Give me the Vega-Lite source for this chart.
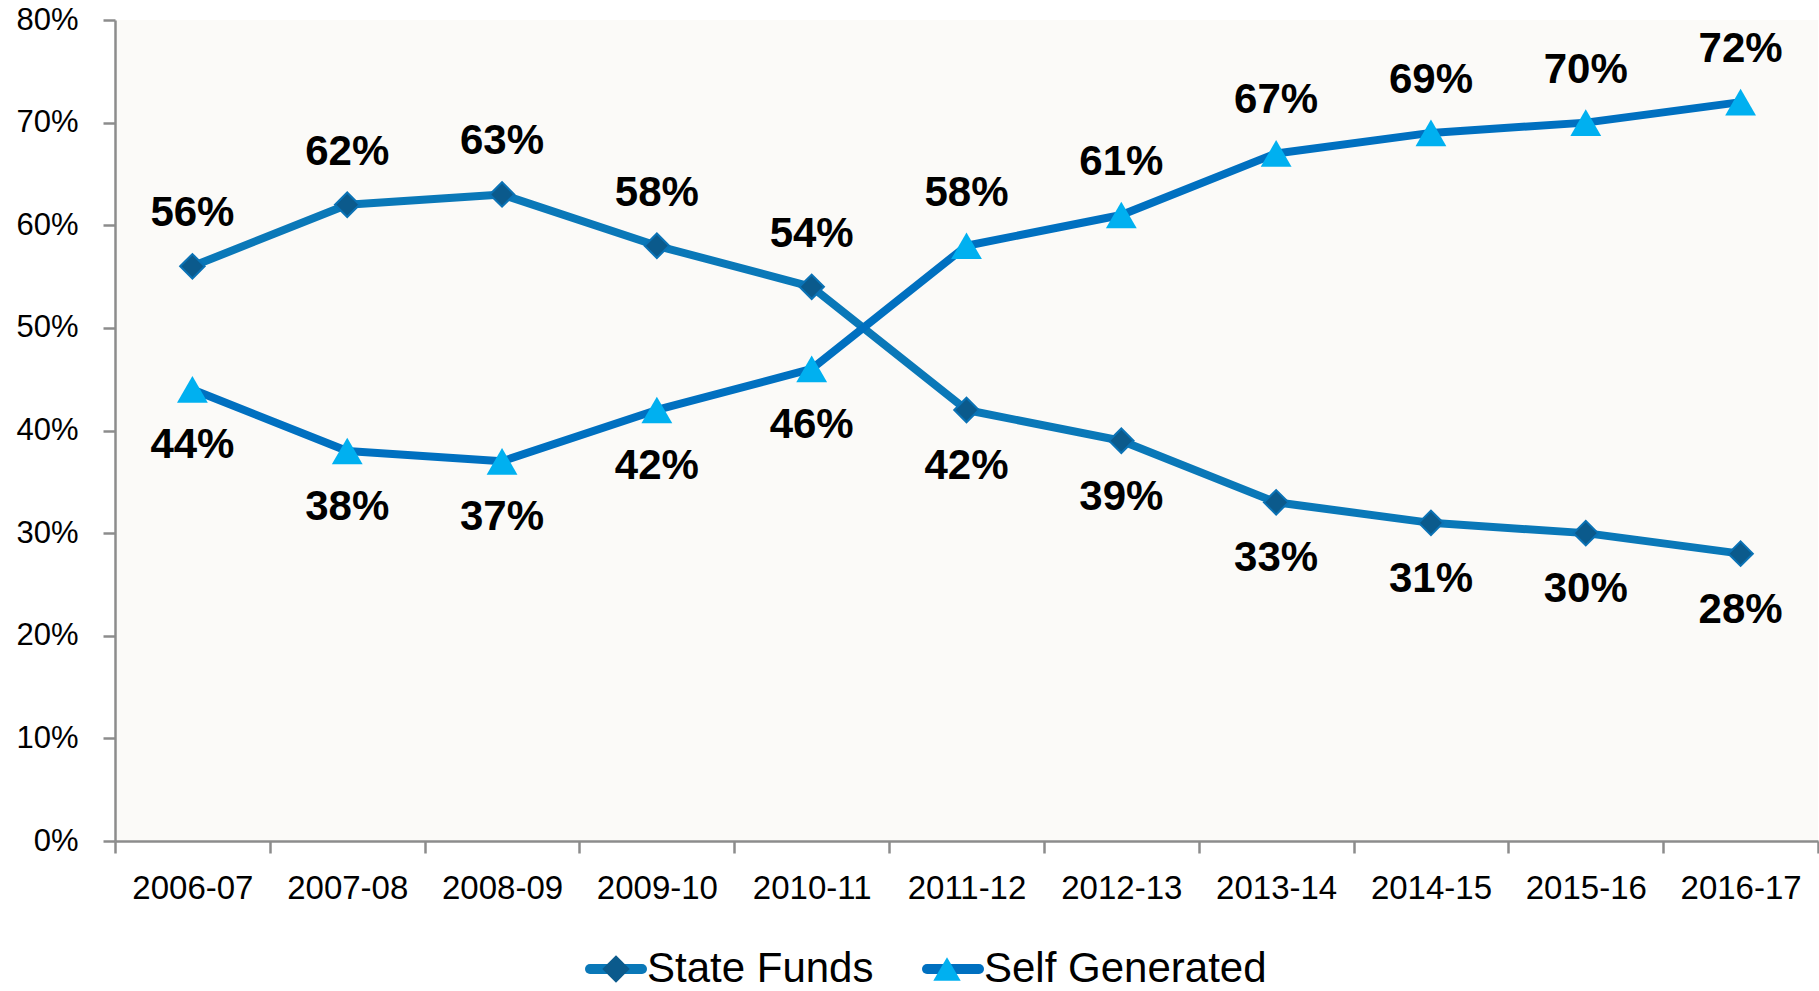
{
  "$schema": "https://vega.github.io/schema/vega-lite/v6.json",
  "autosize": {"type": "none"},
  "padding": {"left": 115, "top": 20, "right": 1, "bottom": 150},
  "width": 1703,
  "height": 821,
  "background": "#ffffff",
  "config": {
    "view": {"fill": "#FBFAF8", "stroke": null},
    "font": "Liberation Sans"
  },
  "data": {
    "values": [
      {"year": "2006-07", "series": "State Funds", "value": 0.56},
      {"year": "2007-08", "series": "State Funds", "value": 0.62},
      {"year": "2008-09", "series": "State Funds", "value": 0.63},
      {"year": "2009-10", "series": "State Funds", "value": 0.58},
      {"year": "2010-11", "series": "State Funds", "value": 0.54},
      {"year": "2011-12", "series": "State Funds", "value": 0.42},
      {"year": "2012-13", "series": "State Funds", "value": 0.39},
      {"year": "2013-14", "series": "State Funds", "value": 0.33},
      {"year": "2014-15", "series": "State Funds", "value": 0.31},
      {"year": "2015-16", "series": "State Funds", "value": 0.30},
      {"year": "2016-17", "series": "State Funds", "value": 0.28},
      {"year": "2006-07", "series": "Self Generated", "value": 0.44},
      {"year": "2007-08", "series": "Self Generated", "value": 0.38},
      {"year": "2008-09", "series": "Self Generated", "value": 0.37},
      {"year": "2009-10", "series": "Self Generated", "value": 0.42},
      {"year": "2010-11", "series": "Self Generated", "value": 0.46},
      {"year": "2011-12", "series": "Self Generated", "value": 0.58},
      {"year": "2012-13", "series": "Self Generated", "value": 0.61},
      {"year": "2013-14", "series": "Self Generated", "value": 0.67},
      {"year": "2014-15", "series": "Self Generated", "value": 0.69},
      {"year": "2015-16", "series": "Self Generated", "value": 0.70},
      {"year": "2016-17", "series": "Self Generated", "value": 0.72}
    ]
  },
  "encoding": {
    "x": {
      "field": "year", "type": "nominal",
      "scale": {"type": "band", "paddingInner": 0, "paddingOuter": 0},
      "axis": {
        "title": null, "labelAngle": 0, "tickBand": "extent", "grid": false,
        "domainColor": "#8C8C8C", "domainWidth": 2.5, "tickColor": "#8C8C8C", "tickWidth": 2.5, "tickSize": 12,
        "labelFont": "Liberation Sans", "labelFontSize": 33, "labelColor": "#000000", "labelPadding": 19
      }
    },
    "y": {
      "field": "value", "type": "quantitative",
      "scale": {"domain": [0, 0.8], "nice": false},
      "axis": {
        "title": null, "grid": false, "format": ".0%",
        "values": [0, 0.1, 0.2, 0.3, 0.4, 0.5, 0.6, 0.7, 0.8],
        "domainColor": "#8C8C8C", "domainWidth": 2.5, "tickColor": "#8C8C8C", "tickWidth": 2.5, "tickSize": 12,
        "labelFont": "Liberation Sans", "labelFontSize": 31, "labelColor": "#000000", "labelPadding": 25
      }
    }
  },
  "layer": [
    {
      "mark": {"type": "line", "strokeWidth": 8, "strokeJoin": "round", "strokeCap": "round"},
      "encoding": {
        "stroke": {
          "field": "series", "type": "nominal",
          "scale": {"domain": ["State Funds", "Self Generated"], "range": ["#0A78B8", "#0070C0"]},
          "legend": {
            "orient": "none", "legendX": 470, "legendY": 918, "direction": "horizontal", "title": null,
            "symbolType": "stroke", "symbolSize": 2704, "symbolStrokeWidth": 10, "symbolOffset": 0,
            "labelFont": "Liberation Sans", "labelFontSize": 42, "labelColor": "#000000", "labelOffset": 0, "labelLimit": 0,
            "columnPadding": 33, "padding": 0,
            "encode": {"symbols": {"update": {"strokeCap": {"value": "round"}}}}
          }
        }
      }
    },
    {
      "mark": {"type": "point", "filled": true, "opacity": 1, "stroke": "#0A72B5", "strokeWidth": 2},
      "encoding": {
        "fill": {
          "field": "series", "type": "nominal", "sort": "descending",
          "scale": {"range": ["#0B5A8C", "#00B0F0"]},
          "legend": {
            "orient": "none", "legendX": 470, "legendY": 928, "direction": "horizontal", "title": null,
            "symbolSize": 750, "symbolStrokeWidth": 0, "symbolOffset": 10,
            "labelFont": "Liberation Sans", "labelFontSize": 42, "labelOffset": 20, "labelExpr": "''",
            "columnPadding": 259, "padding": 0
          }
        },
        "shape": {
          "field": "series", "type": "nominal", "sort": "descending",
          "scale": {"range": ["diamond", "triangle-up"]},
          "legend": {
            "orient": "none", "legendX": 470, "legendY": 928, "direction": "horizontal", "title": null,
            "symbolSize": 750, "symbolStrokeWidth": 0, "symbolOffset": 10,
            "labelFont": "Liberation Sans", "labelFontSize": 42, "labelOffset": 20, "labelExpr": "''",
            "columnPadding": 259, "padding": 0
          }
        },
        "size": {"condition": {"test": "datum.series == 'State Funds'", "value": 600}, "value": 950},
        "strokeOpacity": {"condition": {"test": "datum.series == 'State Funds'", "value": 1}, "value": 0}
      }
    },
    {
      "transform": [
        {"joinaggregate": [{"op": "max", "field": "value", "as": "top"}], "groupby": ["year"]},
        {"filter": "datum.value == datum.top"}
      ],
      "mark": {"type": "text", "dy": -53, "font": "Liberation Sans", "fontSize": 42, "fontWeight": "bold", "color": "#000000", "baseline": "middle"},
      "encoding": {"text": {"field": "value", "type": "quantitative", "format": ".0%"}}
    },
    {
      "transform": [
        {"joinaggregate": [{"op": "max", "field": "value", "as": "top"}], "groupby": ["year"]},
        {"filter": "datum.value != datum.top"}
      ],
      "mark": {"type": "text", "dy": 56, "font": "Liberation Sans", "fontSize": 42, "fontWeight": "bold", "color": "#000000", "baseline": "middle"},
      "encoding": {"text": {"field": "value", "type": "quantitative", "format": ".0%"}}
    }
  ]
}
